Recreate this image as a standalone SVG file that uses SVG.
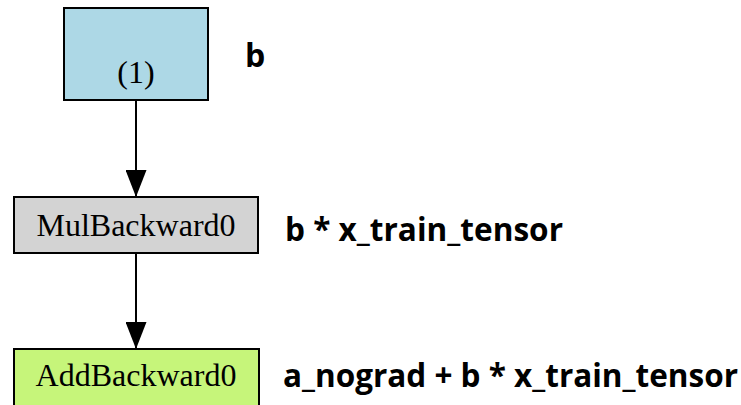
<svg xmlns="http://www.w3.org/2000/svg" width="741" height="405" viewBox="0 0 741 405">
<style>
.box{stroke:#000;stroke-width:2}
.nt{font-family:"Liberation Serif",serif;font-size:32px;fill:#000;text-anchor:middle}
.lb{font-family:"Open Sans","DejaVu Sans",sans-serif;font-weight:bold;font-size:32px;fill:#000}
.edge{stroke:#000;stroke-width:2;fill:none}
</style>
<defs>
<marker id="ah" markerUnits="userSpaceOnUse" markerWidth="27" markerHeight="21" refX="27" refY="10.5" orient="auto" viewBox="0 0 27 21">
<path d="M0,0 L27,10.5 L0,21 Z" fill="#000"/>
</marker>
</defs>
<rect width="741" height="405" fill="#fff"/>
<g id="connectors">
<line class="edge" x1="136" y1="101" x2="136" y2="197" marker-end="url(#ah)"/>
<line class="edge" x1="136" y1="253" x2="136" y2="349" marker-end="url(#ah)"/>
</g>
<g id="node-b">
<rect class="box" x="64" y="8" width="144" height="92" fill="#add8e6"/>
<text class="nt" x="136" y="83">(1)</text>
<text class="lb" x="245" y="67">b</text>
</g>
<g id="node-mul">
<rect class="box" x="14" y="197" width="244" height="56" fill="#d3d3d3"/>
<text class="nt" x="136" y="236">MulBackward0</text>
<text class="lb" x="285" y="241" textLength="278" lengthAdjust="spacingAndGlyphs">b * x_train_tensor</text>
</g>
<g id="node-add">
<rect class="box" x="14" y="349" width="245" height="70" fill="#c6f57a"/>
<text class="nt" x="136" y="386">AddBackward0</text>
<text class="lb" x="283" y="387" style="font-size:31.5px">a_nograd + b * x_train_tensor</text>
</g>
</svg>
